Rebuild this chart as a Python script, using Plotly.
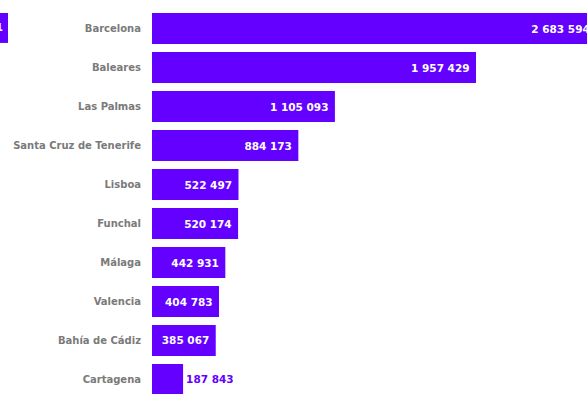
import plotly.graph_objects as go

# Ports ranked by passengers
ports = ["Barcelona", "Baleares", "Las Palmas", "Santa Cruz de Tenerife", "Lisboa",
         "Funchal", "Málaga", "Valencia", "Bahía de Cádiz", "Cartagena"]
passengers = [2683594, 1957429, 1105093, 884173, 522497,
              520174, 442931, 404783, 385067, 187843]

PURPLE = "#6400ff"
PAD = "\u2004"  # a little breathing room before the bar end

n = len(ports)
labels = [f"{v:,}".replace(",", " ") + (PAD if i < n - 1 else "")
          for i, v in enumerate(passengers)]
positions = ["inside"] * (n - 1) + ["outside"]
text_colors = ["white"] * (n - 1) + [PURPLE]

fig = go.Figure(
    go.Bar(
        x=passengers,
        y=ports,
        orientation="h",
        marker=dict(color=PURPLE, line=dict(width=0)),
        text=labels,
        textposition=positions,
        insidetextanchor="end",
        textangle=0,
        constraintext="none",
        textfont=dict(family="DejaVu Sans", size=10.5, color=text_colors, weight="bold"),
        cliponaxis=True,
        hoverinfo="skip",
    )
)

fig.update_layout(
    width=587,
    height=394,
    margin=dict(l=152, r=0, t=0, b=0),
    paper_bgcolor="white",
    plot_bgcolor="white",
    bargap=0.2,
    showlegend=False,
    xaxis=dict(range=[0, 2628000], visible=False, fixedrange=True),
    yaxis=dict(
        type="category",
        categoryorder="array",
        categoryarray=ports,
        range=[9.372, -0.731],
        showgrid=False,
        zeroline=False,
        showline=False,
        ticks="",
        ticklabelstandoff=10,
        tickfont=dict(family="DejaVu Sans", size=10, color="#7a7a7a", weight="bold"),
    ),
    shapes=[
        dict(type="rect", xref="paper", yref="paper",
             x0=-0.40, x1=-0.331, y0=0.891, y1=0.967,
             fillcolor=PURPLE, line=dict(width=0), layer="above"),
    ],
    annotations=[
        dict(xref="paper", yref="paper", x=-0.338, y=0.929, text="1",
             showarrow=False, xanchor="right", yanchor="middle",
             font=dict(family="DejaVu Sans", size=10, color="white", weight="bold")),
    ],
)

fig.write_html("out.html")
